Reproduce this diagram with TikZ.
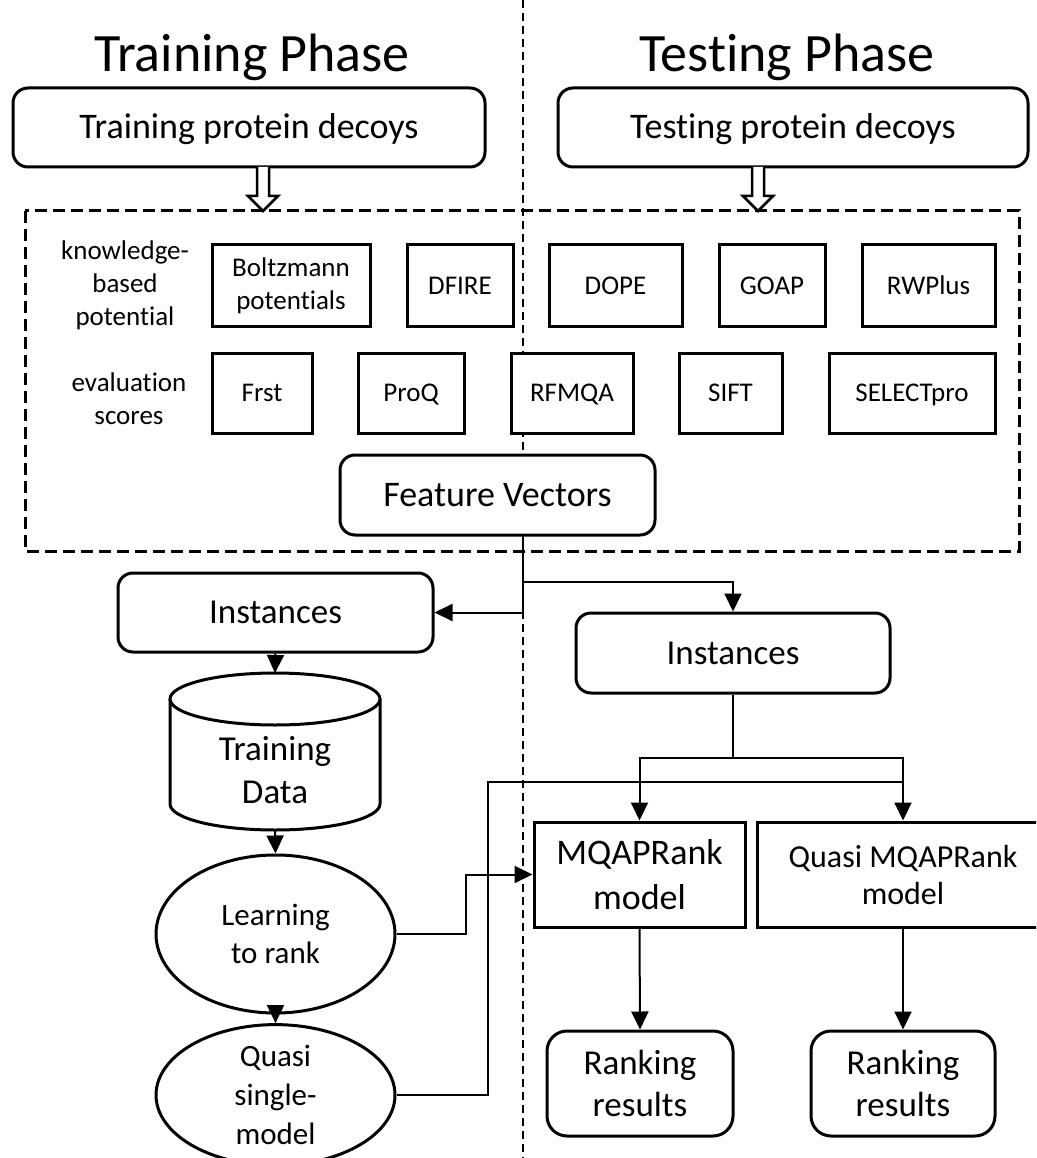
\documentclass[tikz,border=0pt]{standalone}
\usepackage{fontspec}
\setmainfont{Carlito}[Ligatures=NoCommon]
\usetikzlibrary{shapes.geometric,arrows.meta}
\begin{document}
\begin{tikzpicture}[x=1pt,y=-1pt,
  box/.style={draw,line width=3pt,fill=white,inner sep=0pt,align=center},
  one/.style={text height=#1,text depth=0pt},
  rbox/.style={box,rounded corners=15pt},
  ell/.style={box,ellipse},
  fs/.style n args={2}{font=\fontsize{#1}{#2}\selectfont},
  sm/.style={fs={27}{33}},
  ln/.style={line width=2pt},
  arr/.style={line width=2pt,-{Triangle[length=18pt,width=17pt]}},
  hollow/.style={line width=2.5pt,fill=white,line join=miter},
  dbox/.style={line width=3pt,dash pattern=on 12pt off 6pt},
  dline/.style={line width=2pt,dash pattern=on 8pt off 5pt}]
\useasboundingbox (0,0) rectangle (1036,1158);
\clip (0,0) rectangle (1036,1158);
\fill[white] (0,0) rectangle (1036,1158);
% phase separator
\draw[dline] (523,0) -- (523,1158);
% titles
\node[fs={54}{60},anchor=base] (ttitle) at (252,72) {Training Phase};
\node[fs={54}{60},anchor=base] (etitle) at (787,72) {Testing Phase};
% input boxes
\node[rbox,one=23pt,fs={36}{42},minimum width=472pt,minimum height=79pt] (trainbox) at (249,127.5) {Training protein decoys};
\node[rbox,one=23pt,fs={36}{42},minimum width=470pt,minimum height=79pt] (testbox) at (793,127.5) {Testing protein decoys};
% hollow arrows
\draw[hollow] (257,167) -- (257,196) -- (248,196) -- (263,211) -- (278,196) -- (269,196) -- (269,167);
\draw[hollow] (752,167) -- (752,196) -- (743,196) -- (758,211) -- (773,196) -- (764,196) -- (764,167);
% dashed feature box
\draw[dbox] (25,211) rectangle (1019,551);
% labels
\node[sm,align=center] (kbp) at (125,285) {knowledge-\\based\\potential};
\node[sm,align=center] (evs) at (129,399) {evaluation\\scores};
% row 1
\node[box,sm,minimum width=158pt,minimum height=81pt] (boltz) at (291,285.5) {Boltzmann\\potentials};
\node[box,one=17.5pt,sm,minimum width=106pt,minimum height=81pt] (dfire) at (460,285.5) {DFIRE};
\node[box,one=17.5pt,sm,minimum width=133pt,minimum height=81pt] (dope) at (615.5,285.5) {DOPE};
\node[box,one=17.5pt,sm,minimum width=106pt,minimum height=81pt] (goap) at (772,285.5) {GOAP};
\node[box,one=17.5pt,sm,minimum width=133pt,minimum height=81pt] (rwplus) at (928.5,285.5) {RWPlus};
% row 2
\node[box,one=17.5pt,sm,minimum width=100pt,minimum height=80pt] (frst) at (262,393) {Frst};
\node[box,one=17.5pt,sm,minimum width=106pt,minimum height=80pt] (proq) at (411,393) {ProQ};
\node[box,one=17.5pt,sm,minimum width=122pt,minimum height=80pt] (rfmqa) at (572,393) {RFMQA};
\node[box,one=17.5pt,sm,minimum width=103pt,minimum height=80pt] (sift) at (730.5,393) {SIFT};
\node[box,one=17.5pt,sm,minimum width=166pt,minimum height=80pt] (select) at (912,393) {SELECTpro};
% feature vectors
\node[rbox,one=23pt,fs={36}{42},minimum width=315pt,minimum height=80pt] (fv) at (497.5,495) {Feature Vectors};
% instances
\node[rbox,one=22.5pt,fs={35}{42},minimum width=315pt,minimum height=79pt] (tinst) at (275.5,612.5) {Instances};
\node[rbox,one=22.5pt,fs={35}{42},minimum width=314pt,minimum height=80pt] (einst) at (733,653) {Instances};
% cylinder
\draw[line width=3pt,fill=white] (170,699) -- (170,804) arc[start angle=180,end angle=0,x radius=105,y radius=26] -- (380,699);
\draw[line width=3pt,fill=white] (275,699) ellipse [x radius=105,y radius=26];
\node[fs={35}{43},align=center] (tdata) at (275,770) {Training\\Data};
\coordinate (cyltop) at (275,673);
\coordinate (cylbot) at (275,830);
% ellipses
\node[ell,fs={31}{38},minimum width=239pt,minimum height=158pt] (learn) at (275.5,934) {Learning\\to rank};
\node[ell,fs={31}{39},minimum width=239pt,minimum height=130pt] (quasi) at (275.5,1095) {Quasi\\single-\\model};
% models
\node[box,fs={36}{45},minimum width=211pt,minimum height=105pt] (mqap) at (639.5,874.5) {MQAPRank\\model};
\node[box,fs={32}{37},minimum width=292pt,minimum height=105pt] (qmqap) at (903,874.5) {Quasi MQAPRank\\model};
% results
\node[rbox,rounded corners=20pt,fs={35}{42},minimum width=186pt,minimum height=105pt] (rank1) at (640,1083.5) {Ranking\\results};
\node[rbox,rounded corners=20pt,fs={35}{42},minimum width=184pt,minimum height=105pt] (rank2) at (903,1083.5) {Ranking\\results};
% connectors
\coordinate (split) at (523,612.5);
\coordinate (fork) at (523,582);
\coordinate (br) at (733,758);
\draw[ln] (fv.south -| split) -- (split);
\draw[arr] (split) -- (tinst.east);
\draw[arr] (fork) -| (einst.north);
\draw[arr] (tinst.south) -- (cyltop);
\draw[arr] (cylbot) -- (learn.north);
\draw[arr] (learn.south) -- (quasi.north);
\draw[arr] (learn.east) -- ++(69,0) |- (mqap.west);
\draw[ln] (quasi.east) -- ++(91,0) |- (qmqap.north |- 0,782);
\draw[ln] (einst.south) -- (br);
\draw[arr] (br) -| (mqap.north);
\draw[arr] (br) -| (qmqap.north);
\draw[arr] (mqap.south) -- (rank1.north);
\draw[arr] (qmqap.south) -- (rank2.north);
\end{tikzpicture}
\end{document}
